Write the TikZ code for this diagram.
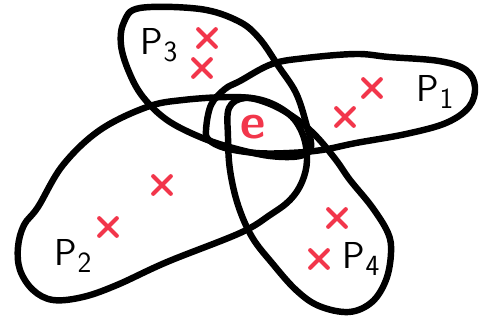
\documentclass[tikz,border=0pt]{standalone}
\usepackage{tikz}
\usetikzlibrary{shapes.misc}
\usepackage{xcolor}
\definecolor{elemred}{HTML}{F2364B}
\newcommand{\partlbl}[1]{P\kern0.5pt\raisebox{-0.45ex}{\fontsize{25}{25}\selectfont #1}}

\begin{document}
\begin{tikzpicture}[
  x=0.03cm, y=-0.03cm,
  blob/.style={draw=black, line width=5.5pt, line join=round, smooth cycle, tension=0.6},
  elem/.style={cross out, draw=elemred, line width=3.6pt, line cap=round, minimum size=0.4cm, inner sep=0pt},
  lbl/.style={font=\fontsize{32}{32}\selectfont\sffamily, text=black, inner sep=0pt}
]
% 1 unit = 1 pixel of the sketch
\useasboundingbox (0,0) rectangle (479,321);

% P3 -- upper left
\draw[blob] plot coordinates {(140,8) (200,9) (238,21) (259,38) (279,67) (296,93) (306,123) (311,147) (300,156) (270,156) (233,148) (200,137) (167,120) (143,97) (129,72) (121,45) (124,22)};

% P1 -- right
\draw[blob] plot coordinates {(206,130) (211,105) (225,89) (240,81) (272,64) (306,58) (356,54) (389,57) (439,61) (466,70) (475,87) (469,107) (446,123) (406,134) (356,143) (322,150) (289,153) (256,153) (225,148) (209,140)};

% P2 -- lower left
\draw[blob] plot coordinates {(18,247) (24,225) (38,207) (63,165) (100,130) (147,107) (183,100) (233,97) (265,101) (290,115) (303,135) (307,160) (302,182) (290,200) (270,215) (240,233) (167,262) (117,285) (83,297) (53,300) (33,290) (20,270)};

% P4 -- lower right
\draw[blob] plot coordinates {(229,108) (245,98) (270,104) (295,118) (316,136) (336,160) (350,180) (372,207) (388,233) (391,253) (386,280) (372,302) (349,312) (319,306) (296,290) (272,263) (252,237) (238,205) (230,170) (228,137)};

% labels
\node[lbl] (p3) at (159,45) {\partlbl{3}};
\node[lbl] (p1) at (435,92) {\partlbl{1}};
\node[lbl] (p2) at (73,256) {\partlbl{2}};
\node[lbl] (p4) at (361,259) {\partlbl{4}};

% common element
\node[font=\fontsize{42}{42}\selectfont\sffamily\bfseries, text=elemred, inner sep=0pt] (e) at (253,127) {e};

% elements of each part
\node[elem] (x31) at (207,38) {};
\node[elem] (x32) at (202,68) {};
\node[elem] (x11) at (372,88) {};
\node[elem] (x12) at (345,117) {};
\node[elem] (x21) at (162,185) {};
\node[elem] (x22) at (108,227) {};
\node[elem] (x41) at (337,218) {};
\node[elem] (x42) at (319,259) {};
\end{tikzpicture}
\end{document}
